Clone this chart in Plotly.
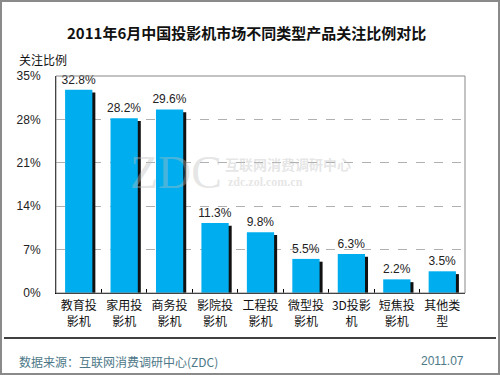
import plotly.graph_objects as go

categories = ["教育投<br>影机", "家用投<br>影机", "商务投<br>影机", "影院投<br>影机", "工程投<br>影机",
              "微型投<br>影机", "3D投影<br>机", "短焦投<br>影机", "其他类<br>型"]
values = [32.8, 28.2, 29.6, 11.3, 9.8, 5.5, 6.3, 2.2, 3.5]
y_ticks = [0, 7, 14, 21, 28, 35]
y_tick_labels = ["0%", "7%", "14%", "21%", "28%", "35%"]

FONT = "Liberation Sans, Arial, Noto Sans CJK SC, sans-serif"
CJK = "Noto Sans CJK SC, Liberation Sans, sans-serif"

shadow = [v - 0.45 for v in values]

fig = go.Figure()
fig.add_trace(go.Bar(x=categories, y=shadow, width=0.6, offset=-0.234,
                     marker=dict(color="#111111", line=dict(width=0)),
                     hoverinfo="skip", showlegend=False))
fig.add_trace(go.Bar(x=categories, y=values, width=0.6, offset=-0.3,
                     marker=dict(color="#00AEEF", line=dict(width=0)),
                     text=[f"{v:.1f}%" for v in values], textposition="outside",
                     constraintext="none",
                     textfont=dict(family=FONT, size=12, color="#222222"),
                     cliponaxis=False, showlegend=False))

WM = "rgba(190,190,190,0.4)"

fig.update_layout(
    width=500, height=375,
    margin=dict(l=56, r=35, t=76, b=82, autoexpand=False),
    paper_bgcolor="white", plot_bgcolor="white",
    barmode="overlay",
    font=dict(family=CJK, size=12, color="#222222"),
    xaxis=dict(type="category", showline=True, linecolor="black", linewidth=1,
               ticks="inside", ticklen=4, tickcolor="black", tickson="boundaries",
               tickangle=0, automargin=False,
               tickfont=dict(family=CJK, size=12, color="#111111"),
               ticklabelstandoff=2, showgrid=False, fixedrange=True),
    yaxis=dict(range=[0, 35], tickmode="array", tickvals=y_ticks, ticktext=y_tick_labels,
               showline=True, linecolor="black", linewidth=1, automargin=False,
               showgrid=True, gridcolor="#b0b0b0", griddash="dash", gridwidth=1,
               zeroline=False, ticks="", ticklabelstandoff=12, fixedrange=True,
               tickfont=dict(family=FONT, size=12, color="#222222")),
    shapes=[
        dict(type="rect", xref="paper", yref="paper", x0=0, x1=1, y0=0, y1=1,
             line=dict(color="#888888", width=1), layer="above"),
        dict(type="rect", xref="paper", yref="paper", x0=-55/409, x1=1+34/409,
             y0=-81/217, y1=1+75/217, line=dict(color="#8a8a8a", width=2)),
        dict(type="line", xref="paper", yref="paper", x0=-52/409, x1=1+31/409,
             y0=-45/217, y1=-45/217, line=dict(color="black", width=1.5)),
    ],
    annotations=[
        dict(text="<b>2011年6月中国投影机市场不同类型产品关注比例对比</b>", xref="paper", yref="paper",
             x=(246-56)/409, y=1+(76-32)/217, xanchor="center", yanchor="middle",
             showarrow=False, font=dict(family=CJK, size=15, color="#111111")),
        dict(text="关注比例", xref="paper", yref="paper", x=(17-56)/409, y=1+(76-59)/217,
             xanchor="left", yanchor="middle", showarrow=False,
             font=dict(family=CJK, size=12, color="#111111")),
        dict(text="数据来源：互联网消费调研中心(ZDC)", xref="paper", yref="paper",
             x=(17-56)/409, y=-(361-293)/217, xanchor="left", yanchor="middle",
             showarrow=False, font=dict(family=CJK, size=12, color="#4d7888")),
        dict(text="2011.07", xref="paper", yref="paper",
             x=(466-56)/409, y=-(361-293)/217, xanchor="right", yanchor="middle",
             showarrow=False, font=dict(family=FONT, size=12, color="#4d7888")),
        dict(text="ZDC", xref="paper", yref="paper", x=(176-56)/409, y=(293-172)/217,
             xanchor="center", yanchor="middle", showarrow=False,
             font=dict(family="Liberation Serif, serif", size=46, color=WM)),
        dict(text="<b>互联网消费调研中心</b>", xref="paper", yref="paper", x=(223-56)/409, y=(293-164)/217,
             xanchor="left", yanchor="middle", showarrow=False,
             font=dict(family=CJK, size=14, color=WM)),
        dict(text="<b>zdc.zol.com.cn</b>", xref="paper", yref="paper", x=(226-56)/409, y=(293-182)/217,
             xanchor="left", yanchor="middle", showarrow=False,
             font=dict(family="Liberation Serif, serif", size=12, color=WM)),
    ],
)

fig.write_html("out.html", config={"displayModeBar": False},
               post_script="document.body.style.margin='0';document.body.style.overflow='hidden';")
